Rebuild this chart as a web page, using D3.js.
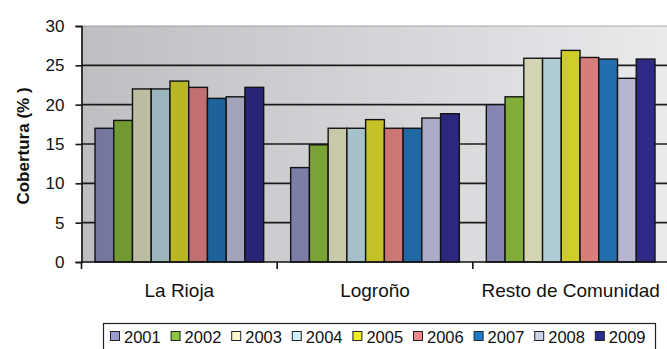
<!DOCTYPE html>
<html>
<head>
<meta charset="utf-8">
<script src="https://cdn.jsdelivr.net/npm/d3@7"></script>
<style>
  html, body { margin: 0; padding: 0; background: #fff; }
  svg { display: block; font-family: "Liberation Sans", Arial, sans-serif; }
</style>
</head>
<body>
<svg id="chart" width="667" height="349"></svg>
<script>
// Coverage (%) by area and year
const categories = ["La Rioja", "Logroño", "Resto de Comunidad"];
const years = ["2001", "2002", "2003", "2004", "2005", "2006", "2007", "2008", "2009"];
const laRioja = [17, 18, 22, 22, 23, 22.2, 20.8, 21, 22.2];
const logrono = [12, 14.9, 17, 17, 18.1, 17, 17, 18.3, 18.85];
const resto   = [20, 21, 25.9, 25.9, 26.9, 26, 25.8, 23.35, 25.8];
const yTicks = [0, 5, 10, 15, 20, 25, 30];
const colors = ["#8b8cbb", "#86b43a", "#dcdcbb", "#b5d3dc", "#d4d22a",
                "#dc807f", "#2270b0", "#b8b8d4", "#2e2a85"];
const legendColors = ["#9b9bcc", "#8cc63f", "#fafad0", "#cdeef5", "#f0ee20",
                      "#f08a8a", "#1f7cc8", "#cfd0ea", "#2c2a8e"];

const seriesByCat = [laRioja, logrono, resto];

const svg = d3.select("#chart");
const plot = { left: 81.5, right: 668.5, top: 26, bottom: 262 };

const y = d3.scaleLinear().domain([0, 30]).range([plot.bottom, plot.top]);
const x0 = d3.scaleBand().domain(categories).range([plot.left, plot.right]).paddingInner(0).paddingOuter(0);
const x1 = d3.scaleBand().domain(years).range([0, x0.bandwidth()]).paddingInner(0).paddingOuter(0.72);

const defs = svg.append("defs");
const bg = defs.append("linearGradient").attr("id", "bg").attr("x1", "0").attr("x2", "1").attr("y1", "0").attr("y2", "0");
bg.append("stop").attr("offset", "0").attr("stop-color", "#e2e3e6");
bg.append("stop").attr("offset", "1").attr("stop-color", "#e9eaec");
const shade = defs.append("linearGradient").attr("id", "shade").attr("x1", "0").attr("x2", "1").attr("y1", "0").attr("y2", "0");
shade.append("stop").attr("offset", "0").attr("stop-color", "#000").attr("stop-opacity", 0.16);
shade.append("stop").attr("offset", "1").attr("stop-color", "#000").attr("stop-opacity", 0);

// plot background
svg.append("rect")
  .attr("x", plot.left).attr("y", plot.top)
  .attr("width", 667 - plot.left).attr("height", plot.bottom - plot.top)
  .attr("fill", "url(#bg)");
svg.append("line")
  .attr("x1", plot.left).attr("x2", 667).attr("y1", plot.top).attr("y2", plot.top)
  .attr("stroke", "#a9abae").attr("stroke-width", 1.2);

// horizontal gridlines
svg.append("g").selectAll("line").data(yTicks.filter(d => d > 0 && d < 30)).join("line")
  .attr("x1", plot.left).attr("x2", 667)
  .attr("y1", d => y(d)).attr("y2", d => y(d))
  .attr("stroke", "#1e1e1e").attr("stroke-width", 1.6);

// bars
const groups = svg.append("g").selectAll("g").data(categories).join("g")
  .attr("transform", d => `translate(${x0(d)},0)`);
groups.selectAll("rect")
  .data((c, i) => seriesByCat[i].map((v, j) => ({ year: years[j], value: v, idx: j })))
  .join("rect")
  .attr("x", d => x1(d.year))
  .attr("y", d => y(d.value))
  .attr("width", x1.bandwidth())
  .attr("height", d => y(0) - y(d.value))
  .attr("fill", d => colors[d.idx])
  .attr("stroke", "#141414").attr("stroke-width", 1.4);

// left-to-right shading over the plot
svg.append("rect")
  .attr("x", plot.left).attr("y", plot.top)
  .attr("width", 667 - plot.left).attr("height", plot.bottom - plot.top)
  .attr("fill", "url(#shade)").attr("pointer-events", "none");

// y axis
const yAxis = svg.append("g").attr("transform", `translate(${plot.left},0)`)
  .call(d3.axisLeft(y).tickValues(yTicks).tickSize(6).tickPadding(11));
yAxis.select(".domain").attr("stroke", "#111").attr("stroke-width", 1.6);
yAxis.selectAll(".tick line").attr("stroke", "#111").attr("stroke-width", 1.6);
yAxis.selectAll(".tick text").attr("font-size", 17).attr("fill", "#111")
  .attr("font-family", "Liberation Sans, Arial, sans-serif");

// x axis: line, category boundary ticks, centred labels
svg.append("line")
  .attr("x1", plot.left).attr("x2", 667).attr("y1", plot.bottom).attr("y2", plot.bottom)
  .attr("stroke", "#111").attr("stroke-width", 1.6);
svg.append("g").selectAll("line").data(categories).join("line")
  .attr("x1", d => x0(d)).attr("x2", d => x0(d))
  .attr("y1", plot.bottom).attr("y2", plot.bottom + 7)
  .attr("stroke", "#111").attr("stroke-width", 1.6);
svg.append("g").selectAll("text").data(categories).join("text")
  .attr("x", d => x0(d) + x0.bandwidth() / 2)
  .attr("y", 297)
  .attr("text-anchor", "middle")
  .attr("font-size", 19).attr("fill", "#111")
  .text(d => d);

// y axis title
svg.append("text")
  .attr("transform", "translate(29,146) rotate(-90)")
  .attr("text-anchor", "middle")
  .attr("font-size", 17).attr("font-weight", "bold").attr("fill", "#111")
  .text("Cobertura (% )");

// legend
const legend = svg.append("g");
legend.append("rect")
  .attr("x", 103.5).attr("y", 323.5).attr("width", 552).attr("height", 40)
  .attr("fill", "#fff").attr("stroke", "#222").attr("stroke-width", 1.2);
const items = legend.selectAll("g").data(years).join("g")
  .attr("transform", (d, i) => `translate(${110 + i * 60.6},0)`);
items.append("rect")
  .attr("x", 0.5).attr("y", 331.5).attr("width", 9).attr("height", 9)
  .attr("fill", (d, i) => legendColors[i]).attr("stroke", "#222").attr("stroke-width", 1);
items.append("text")
  .attr("x", 14).attr("y", 342.5)
  .attr("font-size", 16.5).attr("fill", "#111")
  .text(d => d);
</script>
</body>
</html>
